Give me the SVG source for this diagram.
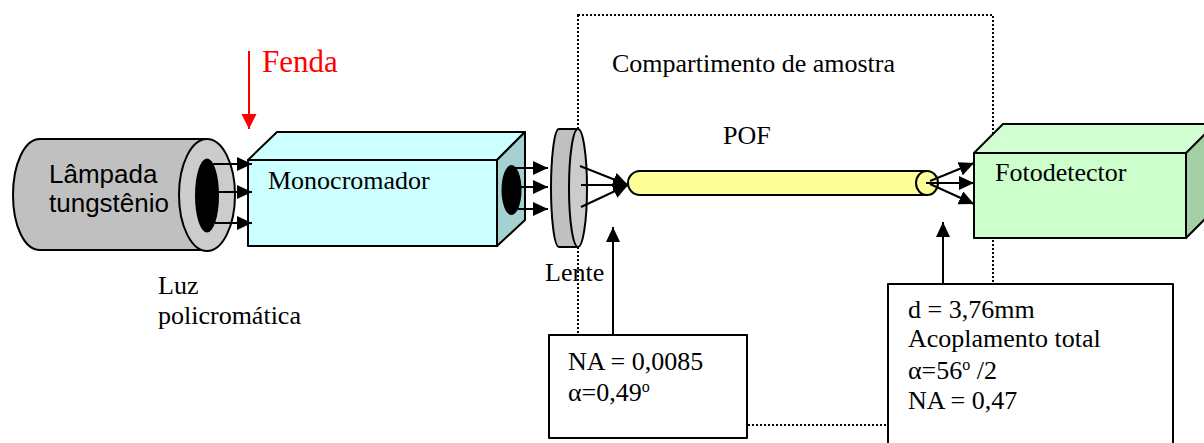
<svg xmlns="http://www.w3.org/2000/svg" width="1204" height="443" viewBox="0 0 1204 443">
<style>
.s{stroke:#000;stroke-width:2;stroke-linejoin:round}
.t{font-family:"Liberation Serif","Times New Roman",serif;font-size:26px;fill:#000}
.h{font-family:"Liberation Sans",Arial,sans-serif;font-size:26px;fill:#000}
.a{fill:none;stroke:#000;stroke-width:2;marker-end:url(#k)}
</style>
<defs>
<marker id="k" markerUnits="userSpaceOnUse" markerWidth="16" markerHeight="16" refX="15" refY="7" orient="auto"><path d="M0 0L15 7L0 14Z" fill="#000"/></marker>
<marker id="r" markerUnits="userSpaceOnUse" markerWidth="16" markerHeight="16" refX="15" refY="7.5" orient="auto"><path d="M0 0L15 7.5L0 15Z" fill="#f00"/></marker>
</defs>
<rect id="compartimento" x="578" y="15" width="415" height="410" fill="none" stroke="#000" stroke-width="2" stroke-dasharray="2 2"/>
<g id="lampada">
<path class="s" d="M207 139H40C24 139 13 165 13 195S24 250 40 250H207Z" fill="#c0c0c0"/>
<ellipse class="s" cx="207" cy="195" rx="28" ry="56" fill="#cccccc"/>
<ellipse cx="207" cy="195.500" rx="12" ry="37" fill="#000"/>
<text class="h" x="49" y="183">Lâmpada</text>
<text class="h" x="49" y="212">tungstênio</text>
</g>
<g id="monocromador">
<path class="s" d="M248 160L277 132H525L497 160Z" fill="#ccffff"/>
<path class="s" d="M497 160L525 132V220L497 246Z" fill="#a6d1d1"/>
<rect class="s" x="248" y="160" width="249" height="86" fill="#ccffff"/>
<ellipse cx="511.500" cy="190" rx="10" ry="25" fill="#000"/>
<text class="t" x="268" y="189">Monocromador</text>
</g>
<g id="lente">
<path class="s" d="M578 129H559C554 129 551 160 551 188S554 247 559 247H578Z" fill="#c0c0c0"/>
<ellipse class="s" cx="578" cy="188" rx="9" ry="59" fill="#cccccc"/>
<text class="t" x="545" y="281">Lente</text>
</g>
<g id="pof">
<path class="s" d="M640 171H927V195H640A12 12 0 0 1 640 171Z" fill="#ffff99"/>
<ellipse class="s" cx="927" cy="183" rx="11" ry="12" fill="#ffff99"/>
<text class="t" x="723" y="144">POF</text>
</g>
<g id="fotodetector">
<path class="s" d="M974 153L1003 124H1215V153H1186Z" fill="#d2ffd2"/>
<path class="s" d="M1186 153L1215 124V209L1186 238Z" fill="#a5cfa5"/>
<rect class="s" x="974" y="153" width="212" height="85" fill="#ccffcc"/>
<text class="t" x="995" y="181">Fotodetector</text>
</g>
<g id="connectors">
<path class="a" d="M213 164H252"/>
<path class="a" d="M218 192H252"/>
<path class="a" d="M215 223H252"/>
<path class="a" d="M515 168H548"/>
<path class="a" d="M520 187H548"/>
<path class="a" d="M518 209H548"/>
<path class="a" d="M580 166L628 185"/>
<path class="a" d="M581 185H628"/>
<path class="a" d="M581 207L628 185"/>
<path class="a" d="M930 181L974 163"/>
<path class="a" d="M926 183H974"/>
<path class="a" d="M930 184L974 204"/>
<path class="a" d="M613 335V227"/>
<path class="a" d="M943 284V222"/>
<path d="M249 51V129" fill="none" stroke="#f00" stroke-width="2" marker-end="url(#r)"/>
</g>
<g id="fenda"><text x="262" y="72" font-family="'Liberation Serif',serif" font-size="31" fill="#f00">Fenda</text></g>
<g id="titulo"><text class="t" x="612" y="72">Compartimento de amostra</text></g>
<g id="luz"><text class="t" x="158" y="294">Luz</text><text class="t" x="158" y="324">policromática</text></g>
<g id="caixa-na1">
<rect class="s" x="549" y="335" width="198" height="103" fill="#fff"/>
<text class="t" x="568" y="370">NA = 0,0085</text>
<text class="t" x="568" y="401">α=0,49<tspan dy="-9" font-size="16">o</tspan></text>
</g>
<g id="caixa-na2">
<rect class="s" x="888" y="284" width="285" height="170" fill="#fff"/>
<text class="t" x="908" y="318">d = 3,76mm</text>
<text class="t" x="908" y="347">Acoplamento total</text>
<text class="t" x="908" y="379">α=56<tspan dy="-9" font-size="16">o</tspan><tspan dy="9"> /2</tspan></text>
<text class="t" x="908" y="409">NA = 0,47</text>
</g>
</svg>
